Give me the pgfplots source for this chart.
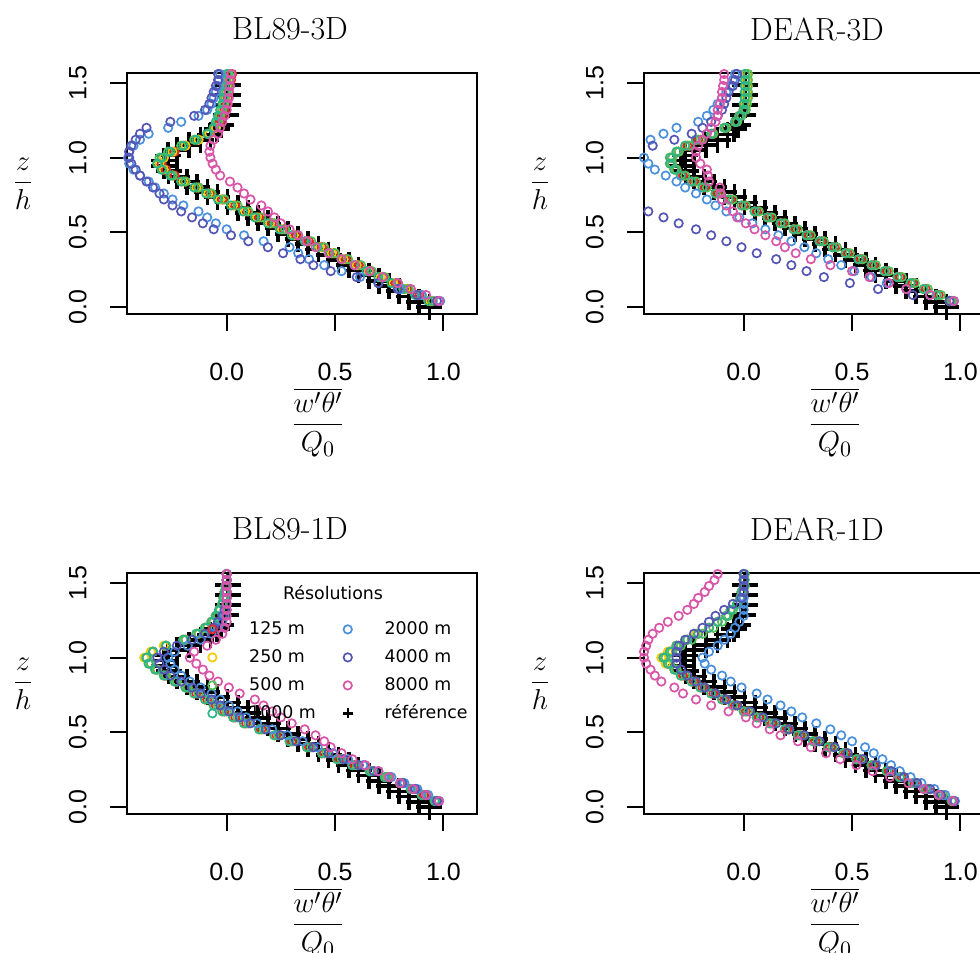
\documentclass[border=0pt]{standalone}
\usepackage{fontspec}
\usepackage{pgfplots}
\usepackage{pgfplotstable}
\pgfplotsset{compat=1.18}
\newfontfamily\rfont{Liberation Sans}
\newfontfamily\lfont{DejaVu Sans}

\definecolor{c125}{HTML}{E8262A}
\definecolor{c250}{HTML}{F2CC00}
\definecolor{c500}{HTML}{55C055}
\definecolor{c1000}{HTML}{2DB58A}
\definecolor{c2000}{HTML}{4A90DC}
\definecolor{c4000}{HTML}{5555B5}
\definecolor{c8000}{HTML}{D855A8}

\pgfplotstableread{
z x
0.000 0.935
0.035 0.888
0.070 0.842
0.105 0.795
0.140 0.749
0.175 0.702
0.210 0.656
0.245 0.609
0.280 0.563
0.315 0.516
0.350 0.470
0.385 0.423
0.420 0.376
0.455 0.330
0.490 0.283
0.525 0.237
0.560 0.190
0.595 0.144
0.630 0.097
0.665 0.051
0.700 0.004
0.735 -0.043
0.770 -0.089
0.805 -0.136
0.840 -0.182
0.875 -0.229
0.910 -0.268
0.945 -0.290
0.980 -0.290
1.015 -0.270
1.050 -0.230
1.085 -0.175
1.120 -0.120
1.155 -0.075
1.190 -0.045
1.220 -0.025
1.286 -0.005
1.353 0.005
1.420 0.005
1.487 0.005
}\tabRef

% BL89-3D
\pgfplotstableread{
z     s1     s2     s3     s4     s5     s6     s7
0.04  0.95   0.94   0.95   0.93   0.985  0.97   0.98
0.08  0.89   0.88   0.90   0.87   0.90   0.88   0.92
0.12  0.835  0.825  0.84   0.815  0.80   0.79   0.85
0.16  0.78   0.77   0.79   0.76   0.70   0.70   0.79
0.20  0.72   0.71   0.73   0.70   0.615  0.60   0.72
0.24  0.665  0.655  0.67   0.645  0.53   0.48   0.66
0.28  0.61   0.60   0.62   0.59   0.45   0.40   0.59
0.32  0.55   0.54   0.56   0.53   0.38   0.34   0.53
0.36  0.495  0.485  0.50   0.475  0.33   0.26   0.47
0.40  0.44   0.43   0.45   0.42   0.29   0.19   0.41
0.44  0.38   0.37   0.39   0.36   0.17   0.10   0.37
0.48  0.32   0.31   0.33   0.30   0.08   0.02   0.33
0.52  0.265  0.255  0.27   0.245  0.00   -0.06  0.29
0.56  0.21   0.20   0.22   0.19   -0.05  -0.11  0.25
0.60  0.15   0.14   0.16   0.13   -0.09  -0.16  0.22
0.64  0.095  0.085  0.10   0.075  -0.13  -0.21  0.19
0.68  0.04   0.03   0.05   0.02   -0.20  -0.25  0.16
0.72  -0.02  -0.03  -0.01  -0.04  -0.25  -0.29  0.11
0.76  -0.075 -0.085 -0.07  -0.095 -0.29  -0.31  0.08
0.80  -0.13  -0.14  -0.13  -0.15  -0.33  -0.34  0.05
0.84  -0.19  -0.20  -0.19  -0.21  -0.36  -0.37  0.015
0.88  -0.24  -0.25  -0.25  -0.26  -0.40  -0.40  -0.03
0.92  -0.28  -0.29  -0.30  -0.30  -0.43  -0.42  -0.05
0.96  -0.30  -0.31  -0.32  -0.32  -0.45  -0.44  -0.065
1.00  -0.29  -0.29  -0.31  -0.30  -0.455 -0.45  -0.075
1.04  -0.24  -0.25  -0.27  -0.26  -0.45  -0.45  -0.08
1.08  -0.19  -0.19  -0.21  -0.20  -0.43  -0.44  -0.075
1.12  -0.13  -0.13  -0.15  -0.14  -0.40  -0.42  -0.06
1.16  -0.08  -0.08  -0.09  -0.09  -0.36  -0.40  -0.04
1.20  -0.05  -0.05  -0.06  -0.06  -0.27  -0.37  -0.03
1.24  -0.03  -0.04  -0.04  -0.05  -0.21  -0.26  -0.02
1.28  -0.02  -0.03  -0.03  -0.04  -0.13  -0.15  -0.01
1.32  -0.01  -0.02  -0.02  -0.03  -0.09  -0.10  0.00
1.36  0.00   -0.015 -0.01  -0.02  -0.07  -0.08  0.005
1.40  0.005  -0.01  -0.005 -0.015 -0.06  -0.07  0.01
1.44  0.01   -0.005 0.00   -0.01  -0.05  -0.06  0.01
1.48  0.015  0.00   0.005  -0.01  -0.04  -0.05  0.015
1.52  0.02   0.00   0.01   -0.005 -0.035 -0.04  0.015
1.56  0.025  0.005  0.01   0.00   -0.03  -0.04  0.02
}\tabTL

% DEAR-3D
\pgfplotstableread{
z     s1     s2     s3     s4     s5     s6     s7
0.04  0.96   0.95   0.96   0.95   0.97   0.95   0.97
0.08  0.90   0.89   0.91   0.89   0.86   0.78   0.86
0.12  0.84   0.83   0.85   0.83   0.75   0.62   0.75
0.16  0.78   0.77   0.79   0.77   0.66   0.49   0.67
0.20  0.72   0.71   0.73   0.71   0.59   0.37   0.58
0.24  0.66   0.65   0.67   0.65   0.51   0.29   0.50
0.28  0.60   0.59   0.61   0.59   0.45   0.22   0.40
0.32  0.54   0.53   0.55   0.53   0.39   0.15   0.31
0.36  0.48   0.47   0.49   0.47   0.335  0.06   0.24
0.40  0.42   0.41   0.43   0.41   0.28   -0.01  0.19
0.44  0.36   0.35   0.37   0.35   0.22   -0.08  0.15
0.48  0.30   0.29   0.31   0.29   0.16   -0.15  0.10
0.52  0.24   0.23   0.25   0.23   0.10   -0.22  0.05
0.56  0.18   0.17   0.19   0.17   0.04   -0.30  0.01
0.60  0.12   0.11   0.13   0.11   -0.02  -0.37  -0.03
0.64  0.06   0.05   0.07   0.05   -0.08  -0.44  -0.05
0.68  0.00   -0.01  0.01   -0.01  -0.13  -0.52  -0.08
0.72  -0.06  -0.07  -0.05  -0.07  -0.17  -0.60  -0.10
0.76  -0.12  -0.13  -0.11  -0.13  -0.22  -0.66  -0.105
0.80  -0.18  -0.19  -0.17  -0.19  -0.27  -0.70  -0.11
0.84  -0.23  -0.24  -0.22  -0.24  -0.31  -0.72  -0.16
0.88  -0.28  -0.29  -0.27  -0.29  -0.36  -0.72  -0.165
0.92  -0.31  -0.32  -0.31  -0.32  -0.41  -0.70  -0.17
0.96  -0.33  -0.34  -0.33  -0.34  -0.44  -0.66  -0.20
1.00  -0.33  -0.34  -0.33  -0.34  -0.46  -0.60  -0.22
1.04  -0.30  -0.31  -0.30  -0.31  -0.48  -0.52  -0.22
1.08  -0.26  -0.27  -0.25  -0.27  -0.47  -0.42  -0.21
1.12  -0.21  -0.22  -0.20  -0.22  -0.43  -0.32  -0.19
1.16  -0.14  -0.15  -0.14  -0.15  -0.37  -0.24  -0.17
1.20  -0.08  -0.09  -0.08  -0.09  -0.31  -0.19  -0.15
1.24  -0.04  -0.04  -0.03  -0.04  -0.21  -0.15  -0.13
1.28  -0.02  -0.02  -0.01  -0.02  -0.17  -0.12  -0.12
1.32  0.00   0.00   0.01   0.00   -0.14  -0.10  -0.12
1.36  0.005  0.005  0.015  0.00   -0.12  -0.09  -0.11
1.40  0.01   0.01   0.02   0.005  -0.10  -0.08  -0.10
1.44  0.01   0.01   0.02   0.005  -0.08  -0.07  -0.10
1.48  0.01   0.01   0.02   0.005  -0.06  -0.05  -0.095
1.52  0.01   0.01   0.02   0.005  -0.05  -0.04  -0.09
1.56  0.01   0.01   0.02   0.005  -0.04  -0.03  -0.09
}\tabTR

% BL89-1D
\pgfplotstableread{
z     s1     s2     s3     s4     s5     s6     s7
0.04  0.97   0.96   0.97   0.96   0.98   0.97   0.98
0.08  0.91   0.90   0.92   0.90   0.93   0.92   0.92
0.12  0.86   0.85   0.87   0.85   0.88   0.87   0.86
0.16  0.81   0.80   0.81   0.80   0.82   0.81   0.80
0.20  0.74   0.73   0.74   0.73   0.76   0.75   0.75
0.24  0.67   0.66   0.67   0.66   0.70   0.68   0.70
0.28  0.59   0.58   0.60   0.58   0.63   0.61   0.64
0.32  0.52   0.51   0.53   0.51   0.56   0.54   0.58
0.36  0.45   0.44   0.46   0.44   0.49   0.47   0.53
0.40  0.38   0.37   0.39   0.37   0.42   0.40   0.48
0.44  0.30   0.29   0.31   0.29   0.35   0.32   0.45
0.48  0.23   0.22   0.24   0.22   0.28   0.25   0.41
0.52  0.16   0.15   0.17   0.15   0.21   0.18   0.36
0.56  0.09   0.08   0.10   0.08   0.14   0.11   0.30
0.60  0.04   0.03   0.05   0.03   0.09   0.06   0.25
0.64  -0.01  -0.02  0.00   -0.02  0.05   0.01   0.21
0.68  -0.05  -0.06  -0.04  -0.06  0.01   -0.03  0.17
0.72  -0.09  -0.10  -0.08  -0.10  -0.03  -0.07  0.13
0.76  -0.14  -0.15  -0.13  -0.15  -0.07  -0.12  0.06
0.80  -0.18  -0.19  -0.18  -0.19  -0.12  -0.16  0.01
0.84  -0.23  -0.24  -0.23  -0.24  -0.17  -0.21  -0.04
0.88  -0.28  -0.29  -0.28  -0.29  -0.21  -0.26  -0.08
0.92  -0.32  -0.33  -0.32  -0.33  -0.24  -0.29  -0.11
0.96  -0.35  -0.36  -0.35  -0.36  -0.26  -0.31  -0.14
1.00  -0.37  -0.38  -0.37  -0.37  -0.27  -0.32  -0.17
1.04  -0.34  -0.35  -0.34  -0.34  -0.24  -0.29  -0.15
1.08  -0.28  -0.29  -0.28  -0.28  -0.18  -0.23  -0.09
1.12  -0.19  -0.20  -0.19  -0.20  -0.12  -0.16  -0.05
1.16  -0.13  -0.14  -0.13  -0.14  -0.07  -0.10  -0.02
1.20  -0.10  -0.10  -0.09  -0.10  -0.04  -0.06  -0.01
1.24  -0.07  -0.07  -0.06  -0.07  -0.02  -0.04  0.00
1.28  -0.05  -0.05  -0.04  -0.05  -0.01  -0.02  0.00
1.32  -0.035 -0.035 -0.03  -0.035 0.00   -0.01  0.00
1.36  -0.02  -0.02  -0.02  -0.02  0.00   0.00   0.00
1.40  -0.015 -0.015 -0.01  -0.015 0.00   0.00   0.00
1.44  -0.01  -0.01  -0.005 -0.01  0.00   0.00   0.00
1.48  -0.005 -0.005 0.00   -0.005 0.00   0.00   0.00
1.52  0.00   0.00   0.00   0.00   0.00   0.00   0.00
1.56  0.00   0.00   0.00   0.00   0.00   0.00   0.00
}\tabBL

% DEAR-1D
\pgfplotstableread{
z     s1     s2     s3     s4     s5     s6     s7
0.04  0.97   0.96   0.97   0.96   0.975  0.97   0.965
0.08  0.91   0.90   0.92   0.90   0.93   0.91   0.90
0.12  0.85   0.84   0.86   0.84   0.88   0.86   0.83
0.16  0.79   0.78   0.80   0.78   0.82   0.80   0.76
0.20  0.73   0.72   0.74   0.72   0.77   0.74   0.675
0.24  0.67   0.66   0.68   0.66   0.72   0.68   0.595
0.28  0.60   0.59   0.61   0.59   0.68   0.61   0.52
0.32  0.53   0.52   0.54   0.52   0.64   0.55   0.445
0.36  0.47   0.46   0.48   0.46   0.60   0.48   0.38
0.40  0.40   0.39   0.41   0.39   0.56   0.42   0.31
0.44  0.33   0.32   0.34   0.32   0.50   0.35   0.25
0.48  0.26   0.25   0.27   0.25   0.45   0.28   0.17
0.52  0.20   0.19   0.21   0.19   0.40   0.21   0.12
0.56  0.13   0.12   0.14   0.12   0.335  0.15   0.06
0.60  0.07   0.06   0.08   0.06   0.27   0.09   0.01
0.64  0.01   0.00   0.02   0.00   0.22   0.03   -0.07
0.68  -0.04  -0.05  -0.03  -0.05  0.17   -0.03  -0.15
0.72  -0.09  -0.10  -0.08  -0.10  0.11   -0.08  -0.22
0.76  -0.14  -0.15  -0.13  -0.15  0.06   -0.13  -0.28
0.80  -0.19  -0.20  -0.18  -0.20  -0.01  -0.18  -0.32
0.84  -0.23  -0.24  -0.22  -0.24  -0.06  -0.22  -0.38
0.88  -0.28  -0.29  -0.27  -0.29  -0.10  -0.26  -0.41
0.92  -0.31  -0.32  -0.31  -0.32  -0.15  -0.29  -0.43
0.96  -0.35  -0.36  -0.34  -0.35  -0.18  -0.31  -0.45
1.00  -0.37  -0.38  -0.36  -0.37  -0.19  -0.31  -0.46
1.04  -0.34  -0.35  -0.33  -0.34  -0.16  -0.31  -0.46
1.08  -0.31  -0.31  -0.29  -0.31  -0.12  -0.30  -0.45
1.12  -0.26  -0.26  -0.24  -0.26  -0.09  -0.27  -0.44
1.16  -0.21  -0.22  -0.19  -0.21  -0.06  -0.23  -0.42
1.20  -0.16  -0.16  -0.14  -0.16  -0.04  -0.19  -0.39
1.24  -0.12  -0.12  -0.10  -0.12  -0.02  -0.16  -0.35
1.28  -0.08  -0.08  -0.07  -0.08  0.00   -0.13  -0.30
1.32  -0.06  -0.06  -0.05  -0.06  0.00   -0.09  -0.26
1.36  -0.03  -0.03  -0.03  -0.03  0.00   -0.05  -0.23
1.40  -0.015 -0.015 -0.01  -0.015 0.00   -0.01  -0.21
1.44  -0.01  -0.01  0.00   -0.01  0.00   0.00   -0.18
1.48  0.00   0.00   0.005  0.00   0.00   0.00   -0.16
1.52  0.00   0.00   0.005  0.00   0.00   0.00   -0.135
1.56  0.00   0.00   0.005  0.00   0.00   0.00   -0.12
}\tabBR

\pgfplotsset{
  cmark/.style={only marks, mark=o, mark size=2.1pt, line width=0.85pt},
  refmark/.style={only marks, mark=+, mark size=6.5pt, line width=1.8pt, black},
  panel/.style={
    scale only axis, width=175pt, height=120.5pt,
    xmin=-0.46, xmax=1.155, ymin=-0.047, ymax=1.567,
    xtick={0,0.5,1}, xticklabels={0.0,0.5,1.0},
    ytick={0,0.5,1,1.5}, yticklabels={0.0,0.5,1.0,1.5},
    tick align=outside, tick pos=left,
    major tick length=8.5pt,
    axis line style={line width=1pt, black},
    tick style={line width=1pt, black},
    tick label style={font=\rfont\fontsize{12.5}{15}\selectfont},
    xticklabel style={anchor=center, inner sep=0pt, yshift=-20.5pt},
    yticklabel style={xshift=-11.5pt, rotate=90, anchor=south, inner sep=0pt},
    clip mode=global,
    anchor=south west,
  },
}

\newcommand{\panelplots}[1]{%
  \addplot[refmark, forget plot] table[x=x, y=z] {\tabRef};
  \addplot[cmark, c125, forget plot] table[x=s1, y=z] {#1};
  \addplot[cmark, c250, forget plot] table[x=s2, y=z] {#1};
  \addplot[cmark, c500, forget plot] table[x=s3, y=z] {#1};
  \addplot[cmark, c1000, forget plot] table[x=s4, y=z] {#1};
  \addplot[cmark, c2000, forget plot] table[x=s5, y=z] {#1};
  \addplot[cmark, c4000, forget plot] table[x=s6, y=z] {#1};
  \addplot[cmark, c8000, forget plot] table[x=s7, y=z] {#1};
}

\begin{document}
\begin{tikzpicture}
\begin{axis}[panel, at={(63.5pt,319.5pt)}]
  \panelplots{\tabTL}
\end{axis}
\begin{axis}[panel, at={(322pt,319.5pt)}]
  \panelplots{\tabTR}
\end{axis}
\begin{axis}[panel, at={(63.5pt,69.5pt)},
  legend columns=2,
  legend cell align=left,
  legend style={at={(0.1543,0.805)}, anchor=north west, draw=none, fill=none,
    inner sep=0pt, font=\lfont\fontsize{8.7}{10}\selectfont,
    column sep=0pt, row sep=5pt,
    /tikz/every even column/.append style={column sep=-2.5pt},
    nodes={inner xsep=2.9pt, inner ysep=0pt, text height=7pt, text depth=2pt}},
  legend image code/.code={\path[draw=none, fill=none] (0pt,-3pt) rectangle (31pt,3pt);
    \draw[mark repeat=2, mark phase=2, #1] plot coordinates {(0pt,0pt) (15.5pt,0pt) (31pt,0pt)};},
]
  \addlegendimage{cmark, c125}\addlegendentry{125 m}
  \addlegendimage{cmark, c2000}\addlegendentry{2000 m}
  \addlegendimage{cmark, c250}\addlegendentry{250 m}
  \addlegendimage{cmark, c4000}\addlegendentry{4000 m}
  \addlegendimage{cmark, c500}\addlegendentry{500 m}
  \addlegendimage{cmark, c8000}\addlegendentry{8000 m}
  \addlegendimage{cmark, c1000}\addlegendentry{1000 m}
  \addlegendimage{only marks, mark=+, mark size=2.5pt, line width=1.2pt, black}\addlegendentry{référence}
  \panelplots{\tabBL}
\end{axis}
\begin{axis}[panel, at={(322pt,69.5pt)}]
  \panelplots{\tabBR}
\end{axis}

% titles
\node[font=\fontsize{16}{19}\selectfont] at (145pt,462pt) {BL89-3D};
\node[font=\fontsize{16}{19}\selectfont] at (408.5pt,462pt) {DEAR-3D};
\node[font=\fontsize{16}{19}\selectfont] at (145pt,212pt) {BL89-1D};
\node[font=\fontsize{16}{19}\selectfont] at (408.5pt,212pt) {DEAR-1D};
% legend title
\node[font=\lfont\fontsize{8.7}{10}\selectfont] at (166.5pt,180pt) {Résolutions};
% y labels
\node[anchor=base, font=\fontsize{15}{18}\selectfont] at (11.5pt,381.75pt) {$\displaystyle\frac{z}{h}$};
\node[anchor=base, font=\fontsize{15}{18}\selectfont] at (270pt,381.75pt) {$\displaystyle\frac{z}{h}$};
\node[anchor=base, font=\fontsize{15}{18}\selectfont] at (11.5pt,131.75pt) {$\displaystyle\frac{z}{h}$};
\node[anchor=base, font=\fontsize{15}{18}\selectfont] at (270pt,131.75pt) {$\displaystyle\frac{z}{h}$};
% x labels
\node[anchor=base, font=\fontsize{15}{18}\selectfont] at (159pt,260.5pt) {$\displaystyle\frac{\overline{w'\theta'}}{Q_0}$};
\node[anchor=base, font=\fontsize{15}{18}\selectfont] at (417.5pt,260.5pt) {$\displaystyle\frac{\overline{w'\theta'}}{Q_0}$};
\node[anchor=base, font=\fontsize{15}{18}\selectfont] at (159pt,10.5pt) {$\displaystyle\frac{\overline{w'\theta'}}{Q_0}$};
\node[anchor=base, font=\fontsize{15}{18}\selectfont] at (417.5pt,10.5pt) {$\displaystyle\frac{\overline{w'\theta'}}{Q_0}$};

\pgfresetboundingbox
\path[use as bounding box] (0pt,0pt) rectangle (490pt,476.5pt);
\end{tikzpicture}
\end{document}
